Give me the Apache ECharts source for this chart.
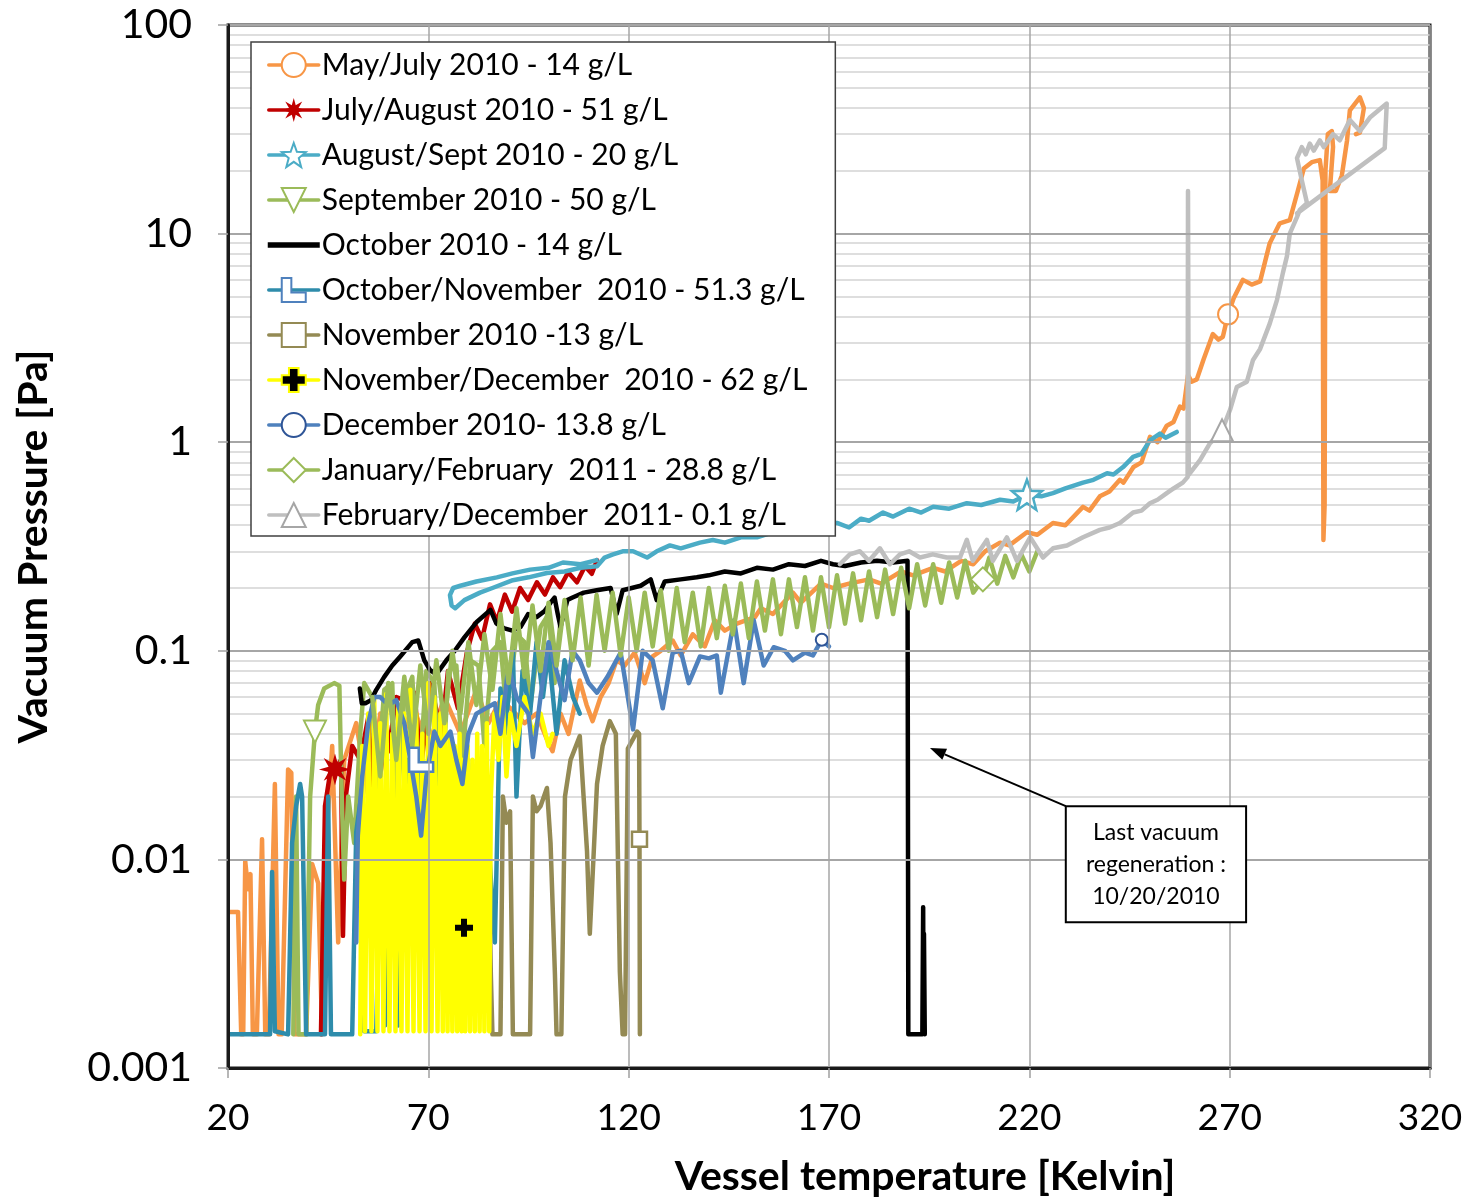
<!DOCTYPE html>
<html><head><meta charset="utf-8">
<script src="https://cdn.jsdelivr.net/npm/echarts/dist/echarts.min.js"></script>
<style>html,body{margin:0;padding:0;background:#fff}#c{width:1468px;height:1201px}</style>
</head><body><div id="c"></div>
<script>
// ---------------- DATA ([temperature K, pressure Pa]) ----------------
const seriesNames = [
  'May/July 2010 - 14 g/L',
  'July/August 2010 - 51 g/L',
  'August/Sept 2010 - 20 g/L',
  'September 2010 - 50 g/L',
  'October 2010 - 14 g/L',
  'October/November  2010 - 51.3 g/L',
  'November 2010 -13 g/L',
  'November/December  2010 - 62 g/L',
  'December 2010- 13.8 g/L',
  'January/February  2011 - 28.8 g/L',
  'February/December  2011- 0.1 g/L'
];
const yTickLabels = ['0.001','0.01','0.1','1','10','100'];
const minorMultipliers = [2,3,4,5,6,7,8,9];
const minorDecades = [0.001,0.01,0.1,1,10];

const mayJuly2010 = [
[20.5,0.0056],[22.5,0.0056],[23.3,0.00145],[23.8,0.00145],[24.3,0.0098],[25.0,0.0072],[25.6,0.0085],[26.2,0.00145],[27.2,0.00145],[28.5,0.0125],[29.3,0.00145],[30.2,0.00145],[31.7,0.023],[32.6,0.00145],[33.4,0.00145],[35.0,0.027],[35.8,0.026],[36.6,0.00145],[39.5,0.00145],[41,0.0095],[42.5,0.0077],[43.5,0.00145],[44.5,0.012],[46,0.035],[47.5,0.004],[49,0.03],[52,0.045],[55,0.02],[58,0.05],[62,0.03],[66,0.055],[70,0.035],[74,0.06],[78,0.04],[82,0.065],[85,0.045],[88,0.058],[90.5,0.053],[94,0.045],[97,0.05],[99.5,0.038],[101,0.033],[103,0.05],[105,0.04],[107.8,0.072],[109.5,0.055],[111,0.046],[113,0.06],[115,0.07],[117,0.09],[119,0.085],[121.5,0.098],[124,0.07],[126,0.094],[128,0.1],[131,0.112],[133,0.095],[136,0.12],[139,0.105],[141.5,0.14],[144,0.125],[147,0.135],[151.5,0.145],[153,0.16],[156,0.15],[161,0.19],[163,0.17],[168,0.21],[171,0.2],[175,0.21],[180,0.22],[183,0.21],[188,0.24],[191,0.23],[196,0.25],[199,0.24],[203,0.27],[206,0.26],[209,0.3],[212.7,0.33],[215,0.32],[219.4,0.37],[222,0.36],[225.9,0.41],[229,0.4],[233.4,0.49],[235,0.47],[237.6,0.55],[240,0.58],[242.6,0.66],[243.5,0.64],[246,0.76],[248,0.8],[250.1,1.06],[252,1.0],[254.3,1.2],[256,1.25],[257.6,1.48],[258.5,1.45],[259.6,2.1],[260.5,1.95],[261.8,2.0],[263.5,2.5],[265.8,3.3],[267.2,3.1],[268.3,3.2],[269.6,4.1],[271,4.9],[273.3,6.0],[275.5,5.7],[277.6,5.9],[280,9.0],[282.5,11.2],[285,11.6],[287,16],[288.5,20.5],[290.5,22],[292.5,22.5],[293.2,18],[293.4,0.34],[293.7,0.5],[293.9,20],[294.5,30],[295.5,31],[295.8,26],[295,16],[296.5,16],[298,19],[299.3,28],[300,39],[302.5,45],[303.5,40],[302.5,30.5],[301.5,30]
];
const julyAug2010 = [
[43.2,0.00145],[44.2,0.018],[45.5,0.026],[46.7,0.027],[48.2,0.03],[48.7,0.0043],[49.4,0.02],[51,0.035],[53,0.03],[55,0.048],[56.7,0.016],[58.5,0.03],[60,0.033],[62,0.06],[64,0.058],[66.5,0.063],[68.2,0.028],[70.7,0.07],[73.2,0.039],[74.9,0.08],[77.4,0.053],[79.6,0.098],[81.6,0.135],[83.4,0.114],[85.4,0.167],[87.1,0.138],[89.1,0.186],[90.9,0.154],[92.9,0.2],[94.9,0.175],[97.1,0.213],[99.1,0.186],[101.1,0.225],[102.9,0.202],[104.9,0.238],[107.1,0.213],[109.1,0.254],[110.8,0.234],[112.1,0.272]
];
const augSept2010 = [
[112,0.272],[108,0.26],[103.6,0.265],[100,0.25],[95.4,0.245],[91,0.235],[87.1,0.225],[82,0.215],[78,0.205],[76.2,0.2],[75.4,0.185],[75.8,0.165],[76.7,0.16],[79,0.175],[82.9,0.19],[86,0.2],[91.1,0.218],[95,0.225],[99.6,0.236],[104,0.24],[108,0.25],[112.1,0.254],[114,0.28],[116.1,0.29],[118.5,0.3],[121.1,0.3],[124.6,0.28],[127,0.3],[130.3,0.32],[133,0.31],[137.8,0.33],[141,0.34],[144,0.33],[148,0.35],[152,0.35],[156,0.37],[160,0.38],[164,0.4],[168,0.41],[172,0.41],[175,0.39],[178,0.43],[180,0.42],[183.5,0.46],[186,0.44],[190,0.48],[193,0.46],[196,0.49],[200,0.48],[204.4,0.51],[208,0.5],[212.7,0.53],[216,0.52],[219.4,0.56],[223,0.55],[225.9,0.57],[229,0.6],[233.4,0.64],[236,0.66],[239.4,0.71],[241,0.7],[243.4,0.76],[245.9,0.85],[248,0.88],[250.1,1.02],[252.6,1.1],[254,1.05],[256.8,1.12]
];
const sept2010 = [
[36.3,0.00145],[37,0.02],[37.6,0.00145],[39.5,0.00145],[40.5,0.02],[41.7,0.041],[42.5,0.055],[44,0.066],[46.5,0.07],[47.8,0.068],[48.3,0.023],[49,0.008],[50,0.02],[51.5,0.012],[53,0.04],[54,0.07],[56,0.06],[57,0.02],[59,0.065],[61,0.07],[62,0.015],[64,0.06],[66,0.075],[67.5,0.02],[69.5,0.08],[71.5,0.07],[73,0.015],[75,0.08],[77,0.085],[78.5,0.03],[80.5,0.09],[82.5,0.085],[84,0.035],[86,0.1],[88,0.11],[89.5,0.05],[92,0.12],[94,0.11],[95.5,0.055],[98,0.13],[100,0.15],[101.5,0.07],[103,0.14]
];
const oct2010 = [
[52.9,0.066],[53.4,0.056],[54.3,0.056],[55.7,0.058],[57,0.065],[59,0.075],[61,0.085],[63,0.094],[66,0.11],[67.5,0.112],[69,0.09],[70.4,0.081],[72,0.077],[74.5,0.09],[76.6,0.1],[79,0.116],[82,0.137],[85.5,0.157],[87,0.135],[89,0.128],[91,0.125],[93,0.13],[94.9,0.15],[97,0.145],[99,0.155],[100.5,0.17],[101.5,0.18],[102.3,0.15],[103,0.13],[104.7,0.175],[106,0.18],[108.8,0.19],[112,0.195],[115.5,0.2],[117,0.15],[118.5,0.195],[123,0.205],[125.5,0.22],[127,0.175],[129,0.215],[133,0.22],[137,0.225],[140,0.23],[144,0.24],[148,0.235],[152,0.25],[156,0.245],[160,0.26],[164,0.255],[168,0.27],[171,0.26],[174,0.255],[178,0.265],[182,0.27],[186,0.265],[189.6,0.27],[189.8,0.00145],[193.3,0.00145],[193.5,0.0059],[193.6,0.0015],[193.7,0.0044],[193.9,0.00145]
];
const octNov2010 = [
[20.5,0.00145],[30.5,0.00145],[31,0.0087],[31.7,0.0015],[35,0.00145],[36,0.012],[37,0.018],[38,0.023],[38.5,0.02],[39.5,0.00145],[44.2,0.00145],[45,0.02],[45.7,0.00145],[51,0.00145],[52,0.0135],[53.2,0.02],[54,0.0015],[57,0.0015],[58.2,0.015],[59.2,0.0016],[61,0.02],[62.5,0.0016],[64.9,0.03],[66,0.01],[68.2,0.03],[69.5,0.004],[71.7,0.032],[73.2,0.008],[75,0.031],[77,0.005],[79.9,0.03],[81.5,0.006],[84,0.025],[86.6,0.004],[88,0.066],[89.1,0.04],[91.1,0.1],[92,0.02],[93.5,0.08],[95.4,0.05],[97,0.11],[98.6,0.06],[100,0.1],[102,0.04],[104,0.09],[106.1,0.06],[107.8,0.05]
];
const nov2010 = [
[84,0.02],[85,0.013],[85.6,0.0028],[86,0.00145],[88,0.00145],[88.6,0.02],[89.5,0.015],[90.4,0.017],[91.1,0.00145],[95.4,0.00145],[96.1,0.02],[97,0.017],[98,0.018],[99.6,0.022],[100.5,0.012],[101.6,0.0028],[102,0.00145],[103.2,0.00145],[104.1,0.02],[105.5,0.03],[107.8,0.039],[109.6,0.011],[110.3,0.0044],[112.1,0.023],[113.5,0.035],[115.3,0.046],[116.8,0.04],[117.8,0.0029],[118.5,0.00145],[119.1,0.00145],[119.8,0.034],[122.1,0.041],[122.6,0.04],[122.7,0.0125],[122.8,0.00145]
];
const novDec2010 = [
[53,0.00145],[53.5,0.035],[54.2,0.0015],[55,0.05],[55.8,0.0015],[56.5,0.06],[57.3,0.0015],[58,0.045],[58.8,0.0015],[59.5,0.062],[60.3,0.0015],[61,0.04],[61.8,0.0015],[62.5,0.055],[63.3,0.0015],[64,0.05],[64.8,0.0015],[65.5,0.065],[66.3,0.0015],[67,0.05],[67.8,0.0015],[68.5,0.04],[69.3,0.0015],[70,0.07],[70.8,0.0015],[71.5,0.06],[72.3,0.0015],[73,0.05],[73.6,0.0015],[74.2,0.045],[74.8,0.0015],[75.4,0.04],[76,0.0015],[76.6,0.035],[77.2,0.0015],[77.8,0.04],[78.3,0.0015],[78.6,0.03],[78.9,0.0047],[79.2,0.0015],[79.8,0.035],[80.4,0.0015],[81,0.03],[81.6,0.0015],[82.2,0.04],[82.8,0.0015],[83.4,0.035],[84,0.0015],[84.6,0.045],[85.2,0.0015],[85.5,0.0015],[85.6,0.02],[86.5,0.05],[87.5,0.03],[88.5,0.06],[89.5,0.025],[90.5,0.05],[92,0.035],[94,0.06],[96,0.04],[98,0.05],[100,0.035],[101,0.04]
];
const dec2010 = [
[52,0.004],[52.4,0.013],[53.5,0.025],[55,0.045],[56.5,0.06],[58,0.06],[60,0.055],[62,0.058],[64,0.045],[65.5,0.03],[67,0.02],[68.2,0.013],[69.5,0.025],[71.5,0.041],[73,0.035],[75.5,0.041],[77,0.03],[78.5,0.023],[80,0.04],[82,0.05],[86.6,0.056],[88,0.04],[90,0.084],[92,0.06],[95,0.05],[96.1,0.031],[98,0.06],[100,0.11],[102,0.08],[104,0.058],[106,0.1],[107.8,0.09],[110,0.07],[112.1,0.063],[114.7,0.075],[118,0.098],[121.1,0.042],[123.5,0.1],[126,0.09],[128.5,0.053],[131,0.098],[133,0.1],[135,0.07],[137.8,0.094],[140,0.092],[142,0.095],[143,0.063],[146.3,0.14],[148.7,0.07],[151.2,0.14],[153.7,0.085],[156.2,0.104],[159,0.1],[161,0.09],[164,0.098],[166,0.095],[168.2,0.113],[170,0.105]
];
const janFeb2011 = [
[56,0.06],[58,0.025],[60,0.07],[62,0.03],[64,0.075],[66,0.035],[68,0.085],[70,0.04],[72,0.09],[74,0.045],[76,0.1],[78,0.05],[80,0.11],[82,0.055],[84,0.12],[86,0.065],[88,0.15],[90,0.07],[92,0.16],[94,0.075],[96,0.165],[98,0.08],[100,0.17],[102,0.085],[104,0.175],[106,0.09],[108,0.18],[110,0.085],[112,0.185],[114,0.1],[116,0.19],[118,0.095],[120,0.18],[122,0.1],[124,0.19],[126,0.105],[128,0.195],[130,0.1],[132,0.2],[134,0.11],[136,0.19],[138,0.105],[140,0.2],[142,0.115],[144,0.205],[146,0.12],[148,0.21],[150,0.115],[152,0.215],[154,0.125],[156,0.22],[158,0.12],[160,0.22],[162,0.13],[164,0.225],[166,0.125],[168,0.225],[170,0.13],[172,0.23],[174,0.135],[176,0.235],[178,0.14],[180,0.24],[182,0.145],[184,0.245],[186,0.15],[188,0.25],[190,0.16],[192,0.26],[194,0.165],[196,0.26],[198,0.17],[200,0.265],[202,0.18],[204,0.27],[206,0.19],[208.4,0.22],[210,0.28],[212,0.21],[214,0.285],[216,0.225],[218,0.29],[220,0.24],[222,0.3]
];
const febDec2011 = [
[172.7,0.26],[175.2,0.29],[177.7,0.3],[180,0.27],[182.7,0.31],[185.2,0.26],[187.7,0.29],[190,0.3],[192.7,0.28],[195.9,0.29],[199.4,0.28],[202.7,0.28],[204.4,0.34],[205.9,0.27],[209.4,0.34],[210.9,0.27],[214.4,0.35],[216.9,0.27],[220.2,0.35],[223.4,0.28],[225.9,0.31],[229.4,0.32],[233.4,0.35],[237.6,0.38],[240,0.39],[242.6,0.41],[245.9,0.46],[248,0.47],[250.1,0.51],[252,0.53],[254.3,0.57],[256,0.6],[258.3,0.64],[259.5,0.68],[259.6,16],[259.8,0.7],[262.6,0.82],[265.1,0.99],[267.6,1.1],[268.1,1.14],[270.1,1.43],[271.8,1.84],[274.3,1.95],[275.8,2.47],[277.6,2.8],[280,3.7],[281.8,4.8],[283.3,6.5],[284.3,7.8],[285,10],[286.8,12],[287.5,13],[289.3,14],[288,18],[286.8,23],[288,26],[289,24],[290,27],[291,25],[292.5,28],[293.5,26],[295.8,30],[297.5,28],[300,35],[302.5,31],[305,36],[309.2,42],[308.7,25.7],[286.8,12.5]
];
const seriesData = [mayJuly2010, julyAug2010, augSept2010, sept2010, oct2010, octNov2010, nov2010, novDec2010, dec2010, janFeb2011, febDec2011];
// one visible marker per series (null = no marker)
const markerPoints = [[269.6,4.1],[46.7,0.027],[219.4,0.56],[41.7,0.041],null,[68.2,0.03],[122.7,0.0125],[78.9,0.0047],[168.2,0.113],[208.4,0.22],[268.1,1.14]];
// annotation anchors
const annoArrowTip = [195.2, 0.0342];
const annoBoxTL = [229.1, 0.018];
const annoBoxBR = [274.1, 0.005];
const annoText = 'Last vacuum\nregeneration :\n10/20/2010';

// ---------------- STYLES ----------------
const FONT = 'Lato, "Open Sans", sans-serif';
function starPath(n, ro, ri) {
  let d = '';
  for (let i = 0; i < 2 * n; i++) {
    const r = i % 2 ? ri : ro;
    const a = Math.PI * i / n - Math.PI / 2;
    d += (i ? 'L' : 'M') + (r * Math.cos(a) + ro).toFixed(2) + ',' + (r * Math.sin(a) + ro).toFixed(2);
  }
  return 'path://' + d + 'Z';
}
const styles = [
  {line:'#F79646', symbol:'emptyCircle', size:20, fill:'#F79646', border:'#F79646'},
  {line:'#C00000', symbol:starPath(8,10,4.3), size:32, fill:'#C00000', border:'#C00000', bw:0},
  {line:'#4BACC6', symbol:starPath(5,10,4.2), size:30, fill:'#fff', border:'#4BACC6', bw:2.5},
  {line:'#9BBB59', symbol:'emptyTriangle', size:22, fill:'#9BBB59', border:'#9BBB59', rot:180},
  {line:'#000000', symbol:'none', size:0, fill:'#000', border:'#000'},
  {line:'#2E8CAB', symbol:'path://M0,0h4v6h6v4h-10z', size:24, fill:'#fff', border:'#4F81BD', bw:2.5},
  {line:'#948A54', symbol:'path://M0,0h10v10h-10z', size:15, fill:'#fff', border:'#948A54', bw:2.5},
  {line:'#FFFF00', symbol:'path://M3,0h4v3h3v4h-3v3h-4v-3h-3v-4h3z', size:20, fill:'#000', border:'#FFFF00', bw:2},
  {line:'#4F81BD', symbol:'emptyCircle', size:12, fill:'#2F5597', border:'#2F5597'},
  {line:'#9BBB59', symbol:'emptyDiamond', size:24, fill:'#9BBB59', border:'#9BBB59'},
  {line:'#BFBFBF', symbol:'emptyTriangle', size:22, fill:'#A6A6A6', border:'#A6A6A6'}
];

const minorLines = [];
minorDecades.forEach(d => minorMultipliers.forEach(m => minorLines.push({yAxis: +(d * m).toPrecision(3)})));

const series = [{
  name: '__grid', type: 'line', data: [], silent: true,
  markLine: {
    silent: true, symbol: ['none','none'], label: {show:false}, z: 1,
    lineStyle: {type:'solid', color:'#D3D3D3', width:1.5},
    emphasis: {disabled: true},
    data: minorLines
  }
}];
seriesData.forEach((data, i) => {
  const st = styles[i];
  const mp = markerPoints[i];
  const idx = mp ? data.findIndex(d => d[0] === mp[0] && d[1] === mp[1]) : -1;
  series.push({
    name: seriesNames[i], type: 'line', data: data,
    showSymbol: true,
    symbol: st.symbol === 'none' ? 'circle' : st.symbol,
    symbolRotate: st.rot || 0,
    symbolSize: (v, p) => (p.dataIndex === idx ? st.size : 0),
    lineStyle: {color: st.line, width: 4.5, join: 'round', cap: 'round'},
    itemStyle: {color: st.fill, borderColor: st.border, borderWidth: st.bw === undefined ? 2.5 : st.bw},
    emphasis: {disabled: true}, silent: true, z: 2, animation: false
  });
});

const legendData = seriesNames.map((n, i) => i === 4 ? {name: n, icon: 'path://M0,0h50v3.5h-50z'} : {name: n});

const chart = echarts.init(document.getElementById('c'), null, {renderer: 'canvas'});
chart.setOption({
  animation: false,
  backgroundColor: '#fff',
  grid: {left: 228, right: 38, top: 25, bottom: 133, show: true, borderColor: '#1a1a1a', borderWidth: 3, backgroundColor: '#fff', containLabel: false, outerBoundsMode: 'none'},
  legend: {
    data: legendData, orient: 'vertical', left: 251, top: 42,
    padding: [8, 28, 6, 16], itemGap: 15, itemWidth: 50, itemHeight: 30,
    backgroundColor: '#fff', borderColor: '#404040', borderWidth: 1.5,
    selectedMode: false, z: 20,
    lineStyle: {width: 3.5},
    textStyle: {fontSize: 30, color: '#000', fontFamily: FONT, lineHeight: 30, padding: [0,0,0,-2]}
  },
  xAxis: {
    type: 'value', min: 20, max: 320, interval: 50, z: 5,
    axisLine: {show: true, onZero: false, lineStyle: {color: '#1a1a1a', width: 3}},
    axisTick: {show: true, length: 10, lineStyle: {color: '#A0A0A0', width: 1.5}},
    axisLabel: {fontSize: 37, color: '#000', margin: 32, fontFamily: FONT},
    splitLine: {show: true, lineStyle: {color: '#A6A6A6', width: 1.5}},
    name: 'Vessel temperature [Kelvin]', nameLocation: 'middle', nameGap: 88,
    nameTextStyle: {fontSize: 41, fontWeight: 'bold', color: '#000', fontFamily: FONT, padding: [0, 0, 0, 192]}
  },
  yAxis: {
    type: 'log', logBase: 10, min: 0.001, max: 100, z: 5,
    axisLine: {show: true, onZero: false, lineStyle: {color: '#1a1a1a', width: 3}},
    axisTick: {show: true, length: 10, lineStyle: {color: '#A0A0A0', width: 1.5}},
    axisLabel: {fontSize: 41, color: '#000', margin: 36, fontFamily: FONT,
      formatter: v => yTickLabels[Math.round(Math.log10(v)) + 3]},
    splitLine: {show: true, lineStyle: {color: '#A6A6A6', width: 2}},
    minorTick: {show: false}, minorSplitLine: {show: false},
    name: 'Vacuum Pressure [Pa]', nameLocation: 'middle', nameGap: 174, nameRotate: 90,
    nameTextStyle: {fontSize: 41, fontWeight: 'bold', color: '#000', fontFamily: FONT}
  },
  series: series
});

const toPx = v => chart.convertToPixel({xAxisIndex: 0, yAxisIndex: 0}, v);
const tl = toPx(annoBoxTL), br = toPx(annoBoxBR), tip = toPx(annoArrowTip);
const ang = Math.atan2(tip[1] - tl[1], tip[0] - tl[0]);
const ah = 16, aw = 6;
const base = [tip[0] - ah * Math.cos(ang), tip[1] - ah * Math.sin(ang)];
const head = [
  tip,
  [base[0] + aw * Math.sin(ang), base[1] - aw * Math.cos(ang)],
  [base[0] - aw * Math.sin(ang), base[1] + aw * Math.cos(ang)]
];
chart.setOption({
  graphic: [
    {type: 'line', z: 30, shape: {x1: tl[0], y1: tl[1], x2: base[0], y2: base[1]}, style: {stroke: '#000', lineWidth: 2}},
    {type: 'polygon', z: 30, shape: {points: head}, style: {fill: '#000'}},
    {type: 'rect', z: 30, shape: {x: tl[0], y: tl[1], width: br[0] - tl[0], height: br[1] - tl[1]}, style: {fill: '#fff', stroke: '#000', lineWidth: 2}},
    {type: 'text', z: 31, x: (tl[0] + br[0]) / 2, y: (tl[1] + br[1]) / 2,
      style: {text: annoText, fontSize: 23, lineHeight: 32, fontFamily: FONT, align: 'center', verticalAlign: 'middle', fill: '#000'}}
  ]
});
</script></body></html>
